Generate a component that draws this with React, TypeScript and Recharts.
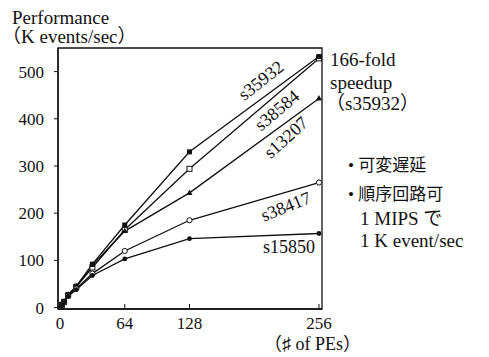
import React from 'react';
import { LineChart, Line, XAxis, YAxis, ReferenceArea } from 'recharts';

const pes = [1, 2, 4, 8, 16, 32, 64, 128, 256];
const s35932 = [3.2, 6, 13, 27, 45, 92, 175, 330, 532];
const s38584 = [3, 6, 12, 26, 44, 85, 165, 294, 528];
const s13207 = [3, 6, 13, 27, 45, 90, 162, 243, 443];
const s38417 = [3, 6, 12, 25, 40, 72, 120, 185, 265];
const s15850 = [3, 6, 12, 24, 38, 68, 103, 146, 157];
const xTicks = [0, 64, 128, 256];
const yTicks = [0, 100, 200, 300, 400, 500];

const chartData = pes.map((pe, i) => ({
  pe,
  s35932: s35932[i],
  s38584: s38584[i],
  s13207: s13207[i],
  s38417: s38417[i],
  s15850: s15850[i],
}));

const FONT = '"Liberation Serif", "DejaVu Serif", "Noto Sans CJK JP", serif';
const INK = '#111';

type Shape = 'square' | 'openSquare' | 'triangle' | 'openCircle' | 'dot';

const makeDot = (shape: Shape) => (props: any) => {
  const { cx, cy, index } = props;
  const k = `d-${shape}-${index}`;
  if (cx == null || cy == null) return <g key={k} />;
  switch (shape) {
    case 'square':
      return <rect key={k} x={cx - 2.5} y={cy - 2.5} width={5} height={5} fill={INK} />;
    case 'openSquare':
      return <rect key={k} x={cx - 2.5} y={cy - 2.5} width={5} height={5} fill="#fff" stroke={INK} strokeWidth={1} />;
    case 'triangle':
      return <polygon key={k} points={`${cx},${cy - 3.5} ${cx - 3},${cy + 2} ${cx + 3},${cy + 2}`} fill={INK} />;
    case 'openCircle':
      return <circle key={k} cx={cx} cy={cy} r={2.6} fill="#fff" stroke={INK} strokeWidth={1} />;
    default:
      return <circle key={k} cx={cx} cy={cy} r={2.4} fill={INK} />;
  }
};

// series name drawn near the last point, rotated along the line
const makeLabel = (text: string, dx: number, dy: number, angle: number) => (props: any) => {
  const { x, y, index } = props;
  if (index !== pes.length - 1) return <g key={`l-${text}-${index}`} />;
  const lx = x + dx;
  const ly = y + dy;
  return (
    <text
      key={`l-${text}`}
      x={lx}
      y={ly}
      textAnchor="middle"
      dominantBaseline="central"
      transform={`rotate(${angle} ${lx} ${ly})`}
      fontFamily={FONT}
      fontSize={18}
      fill={INK}
    >
      {text}
    </text>
  );
};

const abs = (left: number, top: number, size: number): React.CSSProperties => ({
  position: 'absolute',
  left,
  top,
  fontSize: size,
  fontFamily: FONT,
  color: INK,
  whiteSpace: 'nowrap',
  lineHeight: 1,
});

export default function App() {
  return (
    <div style={{ position: 'absolute', left: 0, top: 0, width: 489, height: 357, background: '#fff' }}>
      <LineChart
        width={489}
        height={357}
        data={chartData}
        margin={{ top: 48, right: 167, left: 18, bottom: 18 }}
      >
        <XAxis
          dataKey="pe"
          type="number"
          domain={[-2, 259]}
          ticks={xTicks}
          height={30}
          tickSize={-5}
          tickMargin={13}
          axisLine={{ stroke: INK, strokeWidth: 1.3 }}
          tickLine={{ stroke: INK }}
          tick={{ fill: INK, fontSize: 17, fontFamily: FONT }}
        />
        <YAxis
          type="number"
          domain={[-3, 550]}
          ticks={yTicks}
          width={40}
          tickSize={4}
          tickMargin={10}
          axisLine={{ stroke: INK, strokeWidth: 1.3 }}
          tickLine={{ stroke: INK }}
          tick={{ fill: INK, fontSize: 17, fontFamily: FONT }}
        />
        <ReferenceArea x1={-2} x2={259} y1={-3} y2={550} fill="none" stroke={INK} strokeWidth={1.3} ifOverflow="visible" />
        <Line dataKey="s38584" stroke={INK} strokeWidth={1.3} isAnimationActive={false}
          dot={makeDot('openSquare')} label={makeLabel('s38584', -42, 52, -40)} />
        <Line dataKey="s35932" stroke={INK} strokeWidth={1.3} isAnimationActive={false}
          dot={makeDot('square')} label={makeLabel('s35932', -58, 24, -38)} />
        <Line dataKey="s13207" stroke={INK} strokeWidth={1.3} isAnimationActive={false}
          dot={makeDot('triangle')} label={makeLabel('s13207', -33, 39, -42)} />
        <Line dataKey="s38417" stroke={INK} strokeWidth={1.3} isAnimationActive={false}
          dot={makeDot('openCircle')} label={makeLabel('s38417', -33, 24, -22)} />
        <Line dataKey="s15850" stroke={INK} strokeWidth={1.3} isAnimationActive={false}
          dot={makeDot('dot')} label={makeLabel('s15850', -30, 14, 0)} />
      </LineChart>

      <div style={abs(12, 8, 19)}>Performance</div>
      <div style={abs(2, 27, 19)}>（K events/sec）</div>

      <div style={abs(330, 50, 19)}>166-fold</div>
      <div style={abs(330, 73, 19)}>speedup</div>
      <div style={abs(326, 94, 19)}>（s35932）</div>

      <div style={abs(348, 157, 17)}>• 可変遅延</div>
      <div style={abs(348, 186, 17)}>• 順序回路可</div>
      <div style={abs(360, 209, 19)}>1 MIPS で</div>
      <div style={abs(360, 231, 19)}>1 K event/sec</div>

      <div style={abs(264, 335, 18)}>（♯ of PEs）</div>
    </div>
  );
}
